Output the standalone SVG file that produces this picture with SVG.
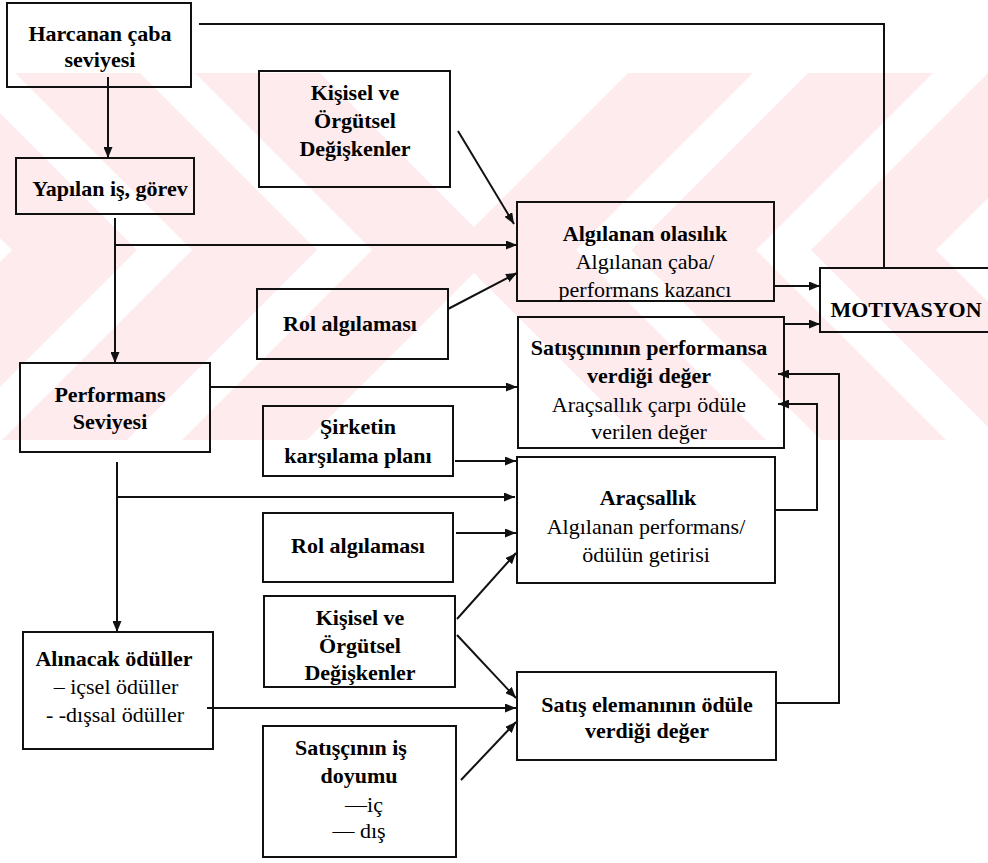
<svg xmlns="http://www.w3.org/2000/svg" width="988" height="863" viewBox="0 0 988 863">
<defs>
  <marker id="ah" markerUnits="userSpaceOnUse" markerWidth="11" markerHeight="9" refX="11" refY="4.5" orient="auto">
    <path d="M0,0 L11,4.5 L0,9 z" fill="#111"/>
  </marker>
  <clipPath id="wmclip"><rect x="0" y="73" width="988" height="367"/></clipPath>
</defs>
<rect width="988" height="863" fill="#fff"/>
<g id="watermark" clip-path="url(#wmclip)" fill="#fdebee">
  <polygon points="-165,73 -40,73 137,250 -53,440 -178,440 12,250"/>
  <polygon points="15,73 140,73 317,250 127,440 2,440 192,250"/>
  <polygon points="195,73 320,73 497,250 307,440 182,440 372,250"/>
  <polygon points="753,73 628,73 451,250 641,440 766,440 576,250"/>
  <polygon points="933,73 808,73 631,250 821,440 946,440 756,250"/>
  <polygon points="1113,73 988,73 811,250 1001,440 1126,440 936,250"/>
</g>

<g id="boxes" fill="none" stroke="#111" stroke-width="2">
  <rect id="b-harcanan" x="7" y="3" width="184" height="84"/>
  <rect id="b-yapilan" x="16" y="158" width="178" height="56"/>
  <rect id="b-kisisel1" x="259" y="71" width="191" height="116"/>
  <rect id="b-algilanan" x="517" y="202" width="257" height="99"/>
  <rect id="b-motivasyon" x="820" y="268" width="172" height="64"/>
  <rect id="b-rol1" x="257" y="289" width="191" height="70"/>
  <rect id="b-satiscinin" x="518" y="317" width="266" height="131"/>
  <rect id="b-performans" x="20" y="363" width="190" height="89"/>
  <rect id="b-sirketin" x="263" y="406" width="190" height="70"/>
  <rect id="b-aracsallik" x="517" y="457" width="258" height="126"/>
  <rect id="b-rol2" x="263" y="513" width="190" height="69"/>
  <rect id="b-kisisel2" x="264" y="596" width="191" height="91"/>
  <rect id="b-alinacak" x="23" y="632" width="190" height="117"/>
  <rect id="b-satis" x="517" y="672" width="259" height="88"/>
  <rect id="b-doyum" x="263" y="726" width="193" height="131"/>
</g>

<g id="labels" text-anchor="middle">
<g id="n-harcanan">
  <text x="100" y="41" font-family="'Liberation Serif'" font-size="22" font-weight="bold">Harcanan çaba</text>
  <text x="100" y="67" font-family="'Liberation Serif'" font-size="22" font-weight="bold">seviyesi</text>
</g>
<g id="n-yapilan">
  <text x="110" y="196" font-family="'Liberation Serif'" font-size="22" font-weight="bold">Yapılan iş, görev</text>
</g>
<g id="n-kisisel1">
  <text x="355" y="100" font-family="'Liberation Serif'" font-size="22" font-weight="bold">Kişisel ve</text>
  <text x="355" y="128" font-family="'Liberation Serif'" font-size="22" font-weight="bold">Örgütsel</text>
  <text x="355" y="156" font-family="'Liberation Serif'" font-size="22" font-weight="bold">Değişkenler</text>
</g>
<g id="n-algilanan">
  <text x="645" y="241" font-family="'Liberation Serif'" font-size="22" font-weight="bold">Algılanan olasılık</text>
  <text x="645" y="269" font-family="'Liberation Serif'" font-size="22">Algılanan çaba/</text>
  <text x="645" y="297" font-family="'Liberation Serif'" font-size="22">performans kazancı</text>
</g>
<g id="n-motivasyon">
  <text x="906" y="317" font-family="'Liberation Serif'" font-size="22" font-weight="bold">MOTIVASYON</text>
</g>
<g id="n-rol1">
  <text x="350" y="331" font-family="'Liberation Serif'" font-size="22" font-weight="bold">Rol algılaması</text>
</g>
<g id="n-satiscinin-perf">
  <text x="649" y="355" font-family="'Liberation Serif'" font-size="22" font-weight="bold">Satışçınının performansa</text>
  <text x="649" y="383" font-family="'Liberation Serif'" font-size="22" font-weight="bold">verdiği değer</text>
  <text x="649" y="412" font-family="'Liberation Serif'" font-size="22">Araçsallık çarpı ödüle</text>
  <text x="649" y="439" font-family="'Liberation Serif'" font-size="22">verilen değer</text>
</g>
<g id="n-performans">
  <text x="110" y="402" font-family="'Liberation Serif'" font-size="22" font-weight="bold">Performans</text>
  <text x="110" y="429" font-family="'Liberation Serif'" font-size="22" font-weight="bold">Seviyesi</text>
</g>
<g id="n-sirketin">
  <text x="358" y="434" font-family="'Liberation Serif'" font-size="22" font-weight="bold">Şirketin</text>
  <text x="358" y="463" font-family="'Liberation Serif'" font-size="22" font-weight="bold">karşılama planı</text>
</g>
<g id="n-aracsallik">
  <text x="648" y="505" font-family="'Liberation Serif'" font-size="22" font-weight="bold">Araçsallık</text>
  <text x="646" y="534" font-family="'Liberation Serif'" font-size="22">Algılanan performans/</text>
  <text x="646" y="562" font-family="'Liberation Serif'" font-size="22">ödülün getirisi</text>
</g>
<g id="n-rol2">
  <text x="358" y="553" font-family="'Liberation Serif'" font-size="22" font-weight="bold">Rol algılaması</text>
</g>
<g id="n-kisisel2">
  <text x="360" y="625" font-family="'Liberation Serif'" font-size="22" font-weight="bold">Kişisel ve</text>
  <text x="360" y="653" font-family="'Liberation Serif'" font-size="22" font-weight="bold">Örgütsel</text>
  <text x="360" y="680" font-family="'Liberation Serif'" font-size="22" font-weight="bold">Değişkenler</text>
</g>
<g id="n-alinacak">
  <text x="114" y="666" font-family="'Liberation Serif'" font-size="22" font-weight="bold">Alınacak ödüller</text>
  <text x="116" y="694" font-family="'Liberation Serif'" font-size="22">– içsel ödüller</text>
  <text x="115" y="722" font-family="'Liberation Serif'" font-size="22">- -dışsal ödüller</text>
</g>
<g id="n-satis-elemani">
  <text x="647" y="712" font-family="'Liberation Serif'" font-size="22" font-weight="bold">Satış elemanının ödüle</text>
  <text x="647" y="738" font-family="'Liberation Serif'" font-size="22" font-weight="bold">verdiği değer</text>
</g>
<g id="n-doyum">
  <text x="351" y="755" font-family="'Liberation Serif'" font-size="22" font-weight="bold">Satışçının iş</text>
  <text x="359" y="783" font-family="'Liberation Serif'" font-size="22" font-weight="bold">doyumu</text>
  <text x="364" y="812" font-family="'Liberation Serif'" font-size="22">—iç</text>
  <text x="359" y="838" font-family="'Liberation Serif'" font-size="22">— dış</text>
</g>
</g>

<g id="connectors" fill="none" stroke="#111" stroke-width="2">
  <line x1="108" y1="77" x2="108" y2="158" marker-end="url(#ah)"/>
  <polyline points="199,24 884,24 884,268"/>
  <line x1="115" y1="218" x2="115" y2="363" marker-end="url(#ah)"/>
  <line x1="115" y1="245" x2="517" y2="245" marker-end="url(#ah)"/>
  <line x1="458" y1="131" x2="514" y2="224" marker-end="url(#ah)"/>
  <line x1="448" y1="309" x2="517" y2="273" marker-end="url(#ah)"/>
  <line x1="775" y1="286" x2="820" y2="286" marker-end="url(#ah)"/>
  <line x1="785" y1="324" x2="820" y2="324" marker-end="url(#ah)"/>
  <line x1="211" y1="387" x2="517" y2="387" marker-end="url(#ah)"/>
  <line x1="117" y1="462" x2="117" y2="632" marker-end="url(#ah)"/>
  <line x1="117" y1="497" x2="515" y2="497" marker-end="url(#ah)"/>
  <line x1="455" y1="461" x2="516" y2="461" marker-end="url(#ah)"/>
  <line x1="456" y1="533" x2="516" y2="533" marker-end="url(#ah)"/>
  <line x1="457" y1="619" x2="516" y2="553" marker-end="url(#ah)"/>
  <line x1="457" y1="635" x2="516" y2="698" marker-end="url(#ah)"/>
  <line x1="207" y1="708" x2="516" y2="708" marker-end="url(#ah)"/>
  <line x1="461" y1="780" x2="516" y2="722" marker-end="url(#ah)"/>
  <polyline points="777,703 839,703 839,374 778,374" marker-end="url(#ah)"/>
  <polyline points="776,510 817,510 817,404 778,404" marker-end="url(#ah)"/>
</g>
</svg>
